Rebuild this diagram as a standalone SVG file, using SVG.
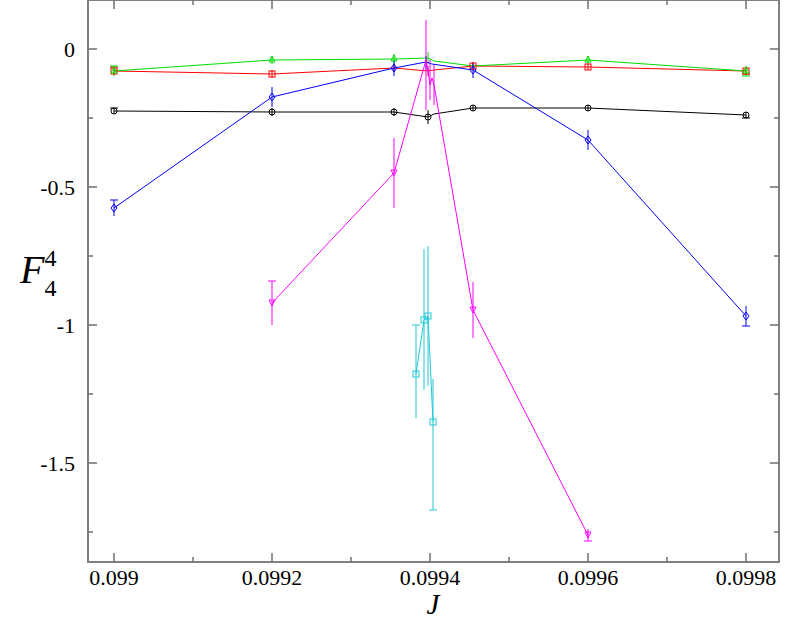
<svg xmlns="http://www.w3.org/2000/svg" width="789" height="621" viewBox="0 0 789 621">
<style>
.ax{stroke:#808080;stroke-width:2;fill:none}
.tk{stroke:#707070;stroke-width:1.5}
.t{font-family:"Liberation Serif",serif;font-size:22px;fill:#000}
.s{fill:none;stroke-width:1}
.e{stroke-width:1;marker-start:url(#cap);marker-end:url(#cap)}
</style>
<defs>
<marker id="cap" markerUnits="userSpaceOnUse" markerWidth="10" markerHeight="4" refX="5" refY="2" orient="0" overflow="visible">
<path d="M1 2h8" stroke="context-stroke" stroke-width="1"/>
</marker>
</defs>
<rect width="789" height="621" fill="#fff"/>
<g id="axes">
<rect class="ax" x="88" y="0" width="691" height="562"/>
<path class="tk" d="M114 562v-9M272 562v-9M430 562v-9M588 562v-9M746 562v-9M114 0v9M272 0v9M430 0v9M588 0v9M746 0v9M193 562v-5M351 562v-5M509 562v-5M667 562v-5M193 0v5M351 0v5M509 0v5M667 0v5
M88 49h9M88 187h9M88 325h9M88 463h9M779 49h-9M779 187h-9M779 325h-9M779 463h-9M88 118h5M88 256h5M88 394h5M88 532h5M779 118h-5M779 256h-5M779 394h-5M779 532h-5"/>
<text class="t" x="114" y="585" text-anchor="middle">0.099</text>
<text class="t" x="272" y="585" text-anchor="middle">0.0992</text>
<text class="t" x="430" y="585" text-anchor="middle">0.0994</text>
<text class="t" x="588" y="585" text-anchor="middle">0.0996</text>
<text class="t" x="746" y="585" text-anchor="middle">0.0998</text>
<text class="t" x="75" y="57" text-anchor="end">0</text>
<text class="t" x="75" y="195" text-anchor="end">-0.5</text>
<text class="t" x="75" y="333" text-anchor="end">-1</text>
<text class="t" x="75" y="471" text-anchor="end">-1.5</text>
<text x="433" y="614" font-family="Liberation Serif,serif" font-style="italic" font-size="29" text-anchor="middle">J</text>
<text x="20" y="283" font-family="Liberation Serif,serif" font-style="italic" font-size="40">F<tspan font-size="24" dy="-17" font-style="normal">4</tspan><tspan font-size="24" dx="-12" dy="30" font-style="normal">4</tspan></text>
</g>
<g id="connectors">
<g stroke="#ff0000" class="s"><polyline points="114,71 272,74 394,68 428,71 434,70 473,66 588,67 746,71"/>
<path class="e" d="M114 67v8M272 70v8M394 64v8M428 66v10M473 63v6M588 64v6M746 68v6"/></g>
<g stroke="#00dd00" class="s"><polyline points="114,71 272,60 394,59 428,58 434,61 473,66 588,60 746,71"/>
<path class="e" d="M114 66v10M272 56v8M394 54v10M428 52v12M473 62v8M588 56v8M746 66v10"/></g>
<g stroke="#000" class="s"><polyline points="114,111 272,112 394,112 428,117 434,114 473,108 588,108 746,115"/>
<path class="e" d="M114 108v6M272 108v8M394 108v8M428 110v14M473 105v6M588 105v6M746 112v6"/></g>
<g stroke="#0000ff" class="s"><polyline points="114,208 272,97 394,68 426,62 432,64 473,70 588,140 746,316"/>
<path class="e" d="M114 200v16M272 87v20M394 60v16M426 56v14M473 62v16M588 130v20M746 306v20"/></g>
<g stroke="#ff00ff" class="s"><polyline points="272,303 394,173 426,60 428,70 430,85 432,78 434,85 473,310 588,535"/>
<path class="e" d="M272 281v44M394 138v70M426 20v90M430 60v40M434 65v40M473 282v56M588 529v12"/></g>
<g stroke="#22c8d8" class="s"><polyline points="416,374 424,320 428,316 433,422"/>
<path class="e" d="M416 325v93M424 249v141M428 246v140M433 379v131"/></g>
</g>
<g id="markers" fill="none" stroke-width="1">
<g stroke="#ff0000"><rect x="111" y="68" width="6" height="6"/><rect x="269" y="71" width="6" height="6"/><rect x="470" y="63" width="6" height="6"/><rect x="585" y="64" width="6" height="6"/><rect x="743" y="68" width="6" height="6"/></g>
<g stroke="#00dd00"><path d="M114 67l3 6h-6zM272 56l3 6h-6zM394 55l3 6h-6zM588 56l3 6h-6zM746 67l3 6h-6z"/></g>
<g stroke="#000"><circle cx="114" cy="111" r="3"/><circle cx="272" cy="112" r="3"/><circle cx="394" cy="112" r="3"/><circle cx="428" cy="117" r="3"/><circle cx="473" cy="108" r="3"/><circle cx="588" cy="108" r="3"/><circle cx="746" cy="115" r="3"/></g>
<g stroke="#0000ff"><path d="M114 204l3 4l-3 4l-3-4zM272 93l3 4l-3 4l-3-4zM394 64l3 4l-3 4l-3-4zM473 66l3 4l-3 4l-3-4zM588 136l3 4l-3 4l-3-4zM746 312l3 4l-3 4l-3-4z"/></g>
<g stroke="#ff00ff"><path d="M272 306l3-6h-6zM394 176l3-6h-6zM473 313l3-6h-6zM588 538l3-6h-6z"/></g>
<g stroke="#22c8d8"><rect x="413" y="371" width="6" height="6"/><rect x="421" y="317" width="6" height="6"/><rect x="425" y="313" width="6" height="6"/><rect x="430" y="419" width="6" height="6"/></g>
</g>
</svg>
